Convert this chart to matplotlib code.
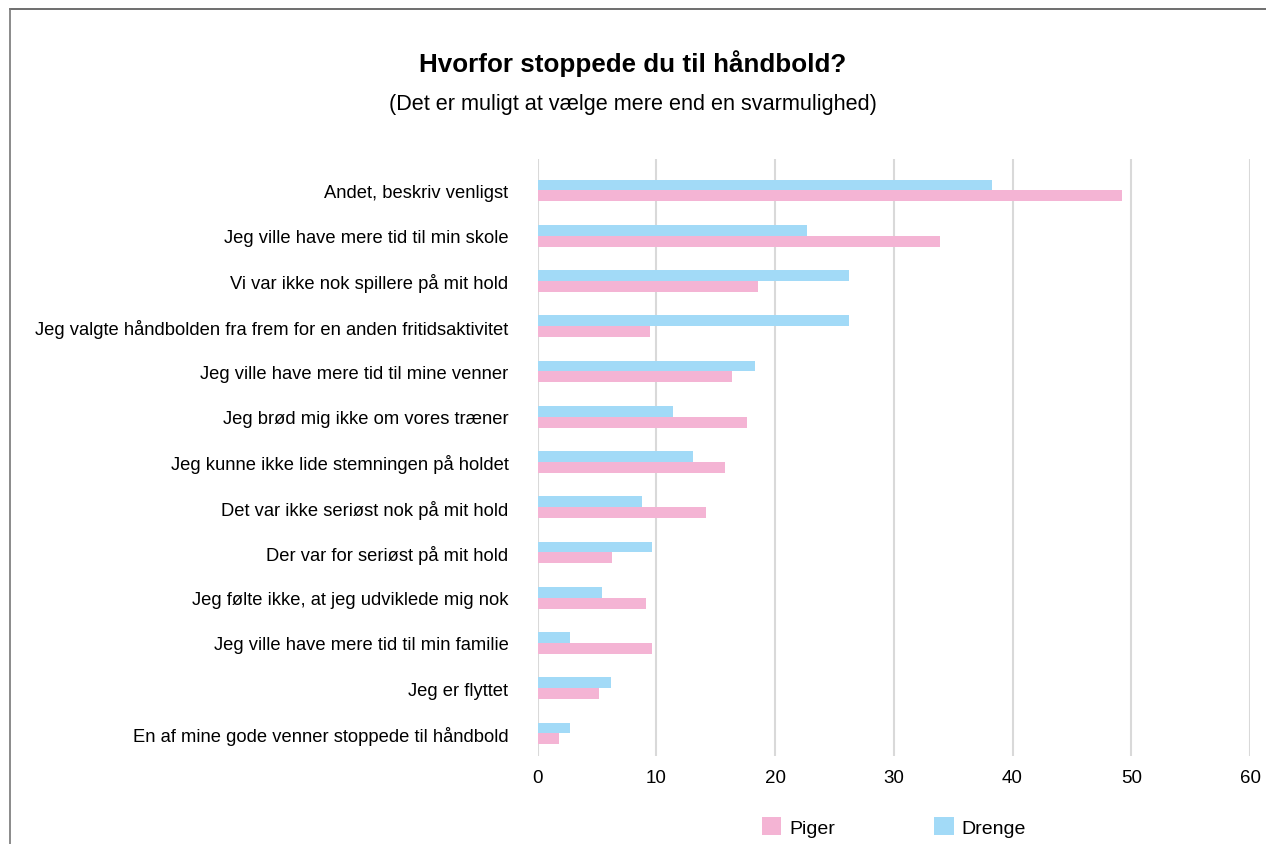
import matplotlib.pyplot as plt
from matplotlib.patches import Patch
from matplotlib.lines import Line2D

# Data
categories = [
    "Andet, beskriv venligst",
    "Jeg ville have mere tid til min skole",
    "Vi var ikke nok spillere på mit hold",
    "Jeg valgte håndbolden fra frem for en anden fritidsaktivitet",
    "Jeg ville have mere tid til mine venner",
    "Jeg brød mig ikke om vores træner",
    "Jeg kunne ikke lide stemningen på holdet",
    "Det var ikke seriøst nok på mit hold",
    "Der var for seriøst på mit hold",
    "Jeg følte ikke, at jeg udviklede mig nok",
    "Jeg ville have mere tid til min familie",
    "Jeg er flyttet",
    "En af mine gode venner stoppede til håndbold",
]
piger = [49.2, 33.9, 18.6, 9.5, 16.4, 17.6, 15.8, 14.2, 6.3, 9.1, 9.6, 5.2, 1.8]
drenge = [38.3, 22.7, 26.2, 26.2, 18.3, 11.4, 13.1, 8.8, 9.6, 5.4, 2.7, 6.2, 2.7]
xticks = [0, 10, 20, 30, 40, 50, 60]

PINK = "#f4b4d4"
BLUE = "#a2daf7"

plt.rcParams['font.family'] = ['Liberation Sans', 'DejaVu Sans']

fig = plt.figure(figsize=(12.66, 8.45), dpi=100)
ax = fig.add_axes([0.4246, 0.104, 0.5628, 0.707])

y = list(range(len(categories)))
h = 0.24
ax.barh([i - h / 2 for i in y], drenge, height=h, color=BLUE, zorder=3)
ax.barh([i + h / 2 for i in y], piger, height=h, color=PINK, zorder=3)

ax.set_xlim(0, 60)
ax.set_ylim(12.5, -0.7)
ax.set_xticks(xticks)
ax.set_xticklabels([str(t) for t in xticks], fontsize=13.5)
ax.set_yticks(y)
ax.set_yticklabels(categories, fontsize=13.2)
ax.tick_params(axis='both', length=0)
ax.tick_params(axis='y', pad=21)
ax.tick_params(axis='x', pad=9)
ax.grid(axis='x', color='#d9d9d9', linewidth=1.5, zorder=0)
for s in ax.spines.values():
    s.set_visible(False)

fig.text(0.5, 0.925, "Hvorfor stoppede du til håndbold?", ha='center', va='center',
         fontsize=18.7, fontweight='bold')
fig.text(0.5, 0.876, "(Det er muligt at vælge mere end en svarmulighed)", ha='center',
         va='center', fontsize=15.6)

handles = [Patch(facecolor=PINK, label="Piger"), Patch(facecolor=BLUE, label="Drenge")]
fig.legend(handles=handles, loc='center', bbox_to_anchor=(0.706, 0.02), ncol=2,
           frameon=False, fontsize=14, handlelength=1.0, handleheight=1.0,
           columnspacing=5.1, handletextpad=0.4)

# border of the surrounding box (top and left)
fig.add_artist(Line2D([0.008, 1.0], [0.988, 0.988], color='#555555', linewidth=1.2,
                      transform=fig.transFigure))
fig.add_artist(Line2D([0.008, 0.008], [0.0, 0.988], color='#777777', linewidth=1.2,
                      transform=fig.transFigure))

fig.savefig("out.png", dpi=100)
